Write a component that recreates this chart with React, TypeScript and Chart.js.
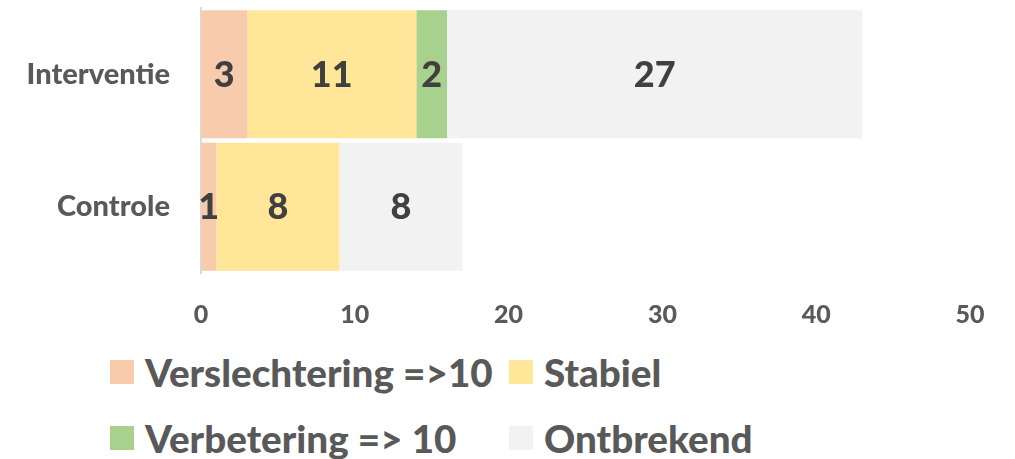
import React, { useEffect, useRef } from "react";
import { Chart, registerables } from "chart.js";

Chart.register(...registerables);

const categories = ["Interventie", "Controle"];
const seriesNames = ["Verslechtering =>10", "Stabiel", "Verbetering => 10", "Ontbrekend"];
const verslechtering = [3, 1];
const stabiel = [11, 8];
const verbetering = [2, 0];
const ontbrekend = [27, 8];
const seriesColors = ["#F8CBAD", "#FFE699", "#A9D18E", "#F2F2F2"];
const xTicks = [0, 10, 20, 30, 40, 50];

const FONT = "Lato, 'Open Sans', sans-serif";
const W = "900";
const CANVAS_H = 345;
const AREA_LEFT = 201;
const AREA_TOP = 8;
const AREA_BOTTOM = 273;

const valueLabels = {
  id: "valueLabels",
  afterDatasetsDraw(chart: any) {
    const ctx = chart.ctx;
    ctx.save();
    ctx.font = `${W} 36px ${FONT}`;
    ctx.fillStyle = "#404040";
    ctx.textAlign = "center";
    ctx.textBaseline = "middle";
    chart.data.datasets.forEach((ds: any, di: number) => {
      const meta = chart.getDatasetMeta(di);
      meta.data.forEach((el: any, i: number) => {
        const v = ds.data[i];
        if (!v) return;
        const cx = (el.x + el.base) / 2;
        ctx.fillText(String(v), cx, el.y + 1);
      });
    });
    ctx.restore();
  },
};

export default function App() {
  const ref = useRef<HTMLCanvasElement | null>(null);
  useEffect(() => {
    if (!ref.current) return;
    const all = [verslechtering, stabiel, verbetering, ontbrekend];
    const chart = new Chart(ref.current, {
      type: "bar",
      data: {
        labels: categories,
        datasets: seriesNames.map((name, i) => ({
          label: name,
          data: all[i],
          backgroundColor: seriesColors[i],
          borderWidth: 0,
          barPercentage: 0.965,
          categoryPercentage: 1,
        })),
      },
      options: {
        indexAxis: "y",
        animation: false,
        responsive: false,
        maintainAspectRatio: false,
        layout: { padding: { top: AREA_TOP, right: 45, left: 0, bottom: 0 } },
        plugins: { legend: { display: false }, tooltip: { enabled: false } },
        scales: {
          x: {
            stacked: true,
            min: 0,
            max: 50,
            afterBuildTicks: (scale: any) => {
              scale.ticks = xTicks.map((v) => ({ value: v }));
            },
            afterFit: (scale: any) => {
              scale.height = CANVAS_H - AREA_BOTTOM;
              scale.paddingLeft = 0;
              scale.paddingRight = 0;
            },
            grid: { display: false, drawTicks: false },
            border: { display: false },
            ticks: {
              color: "#595959",
              font: { family: FONT, size: 25, weight: W },
              padding: 27,
              maxRotation: 0,
            },
          },
          y: {
            stacked: true,
            afterFit: (scale: any) => {
              scale.width = AREA_LEFT;
              scale.paddingTop = 0;
              scale.paddingBottom = 0;
            },
            grid: { display: false, drawTicks: false },
            border: { display: true, color: "#D9D9D9", width: 2 },
            ticks: {
              color: "#595959",
              font: { family: FONT, size: 29, weight: W },
              padding: 31,
            },
          },
        },
      },
      plugins: [valueLabels],
    });
    return () => chart.destroy();
  }, []);

  const legendItems = [
    { i: 0, left: 110, top: 354 },
    { i: 1, left: 509, top: 354 },
    { i: 2, left: 110, top: 420 },
    { i: 3, left: 509, top: 420 },
  ];

  return (
    <div style={{ position: "absolute", left: 0, top: 0, width: 1015, height: 459, background: "#fff", overflow: "hidden" }}>
      <canvas ref={ref} width={1015} height={CANVAS_H} style={{ position: "absolute", left: 0, top: 0, width: 1015, height: CANVAS_H }} />
      {legendItems.map((it) => (
        <div
          key={it.i}
          style={{
            position: "absolute",
            left: it.left,
            top: it.top,
            height: 36,
            display: "flex",
            alignItems: "center",
            fontFamily: FONT,
            fontWeight: W,
            fontSize: 38.6,
            color: "#595959",
            whiteSpace: "nowrap",
            lineHeight: "36px",
          }}
        >
          <span style={{ display: "inline-block", width: 24, height: 24, background: seriesColors[it.i], marginRight: 11, flex: "none" }} />
          <span>{seriesNames[it.i]}</span>
        </div>
      ))}
    </div>
  );
}
